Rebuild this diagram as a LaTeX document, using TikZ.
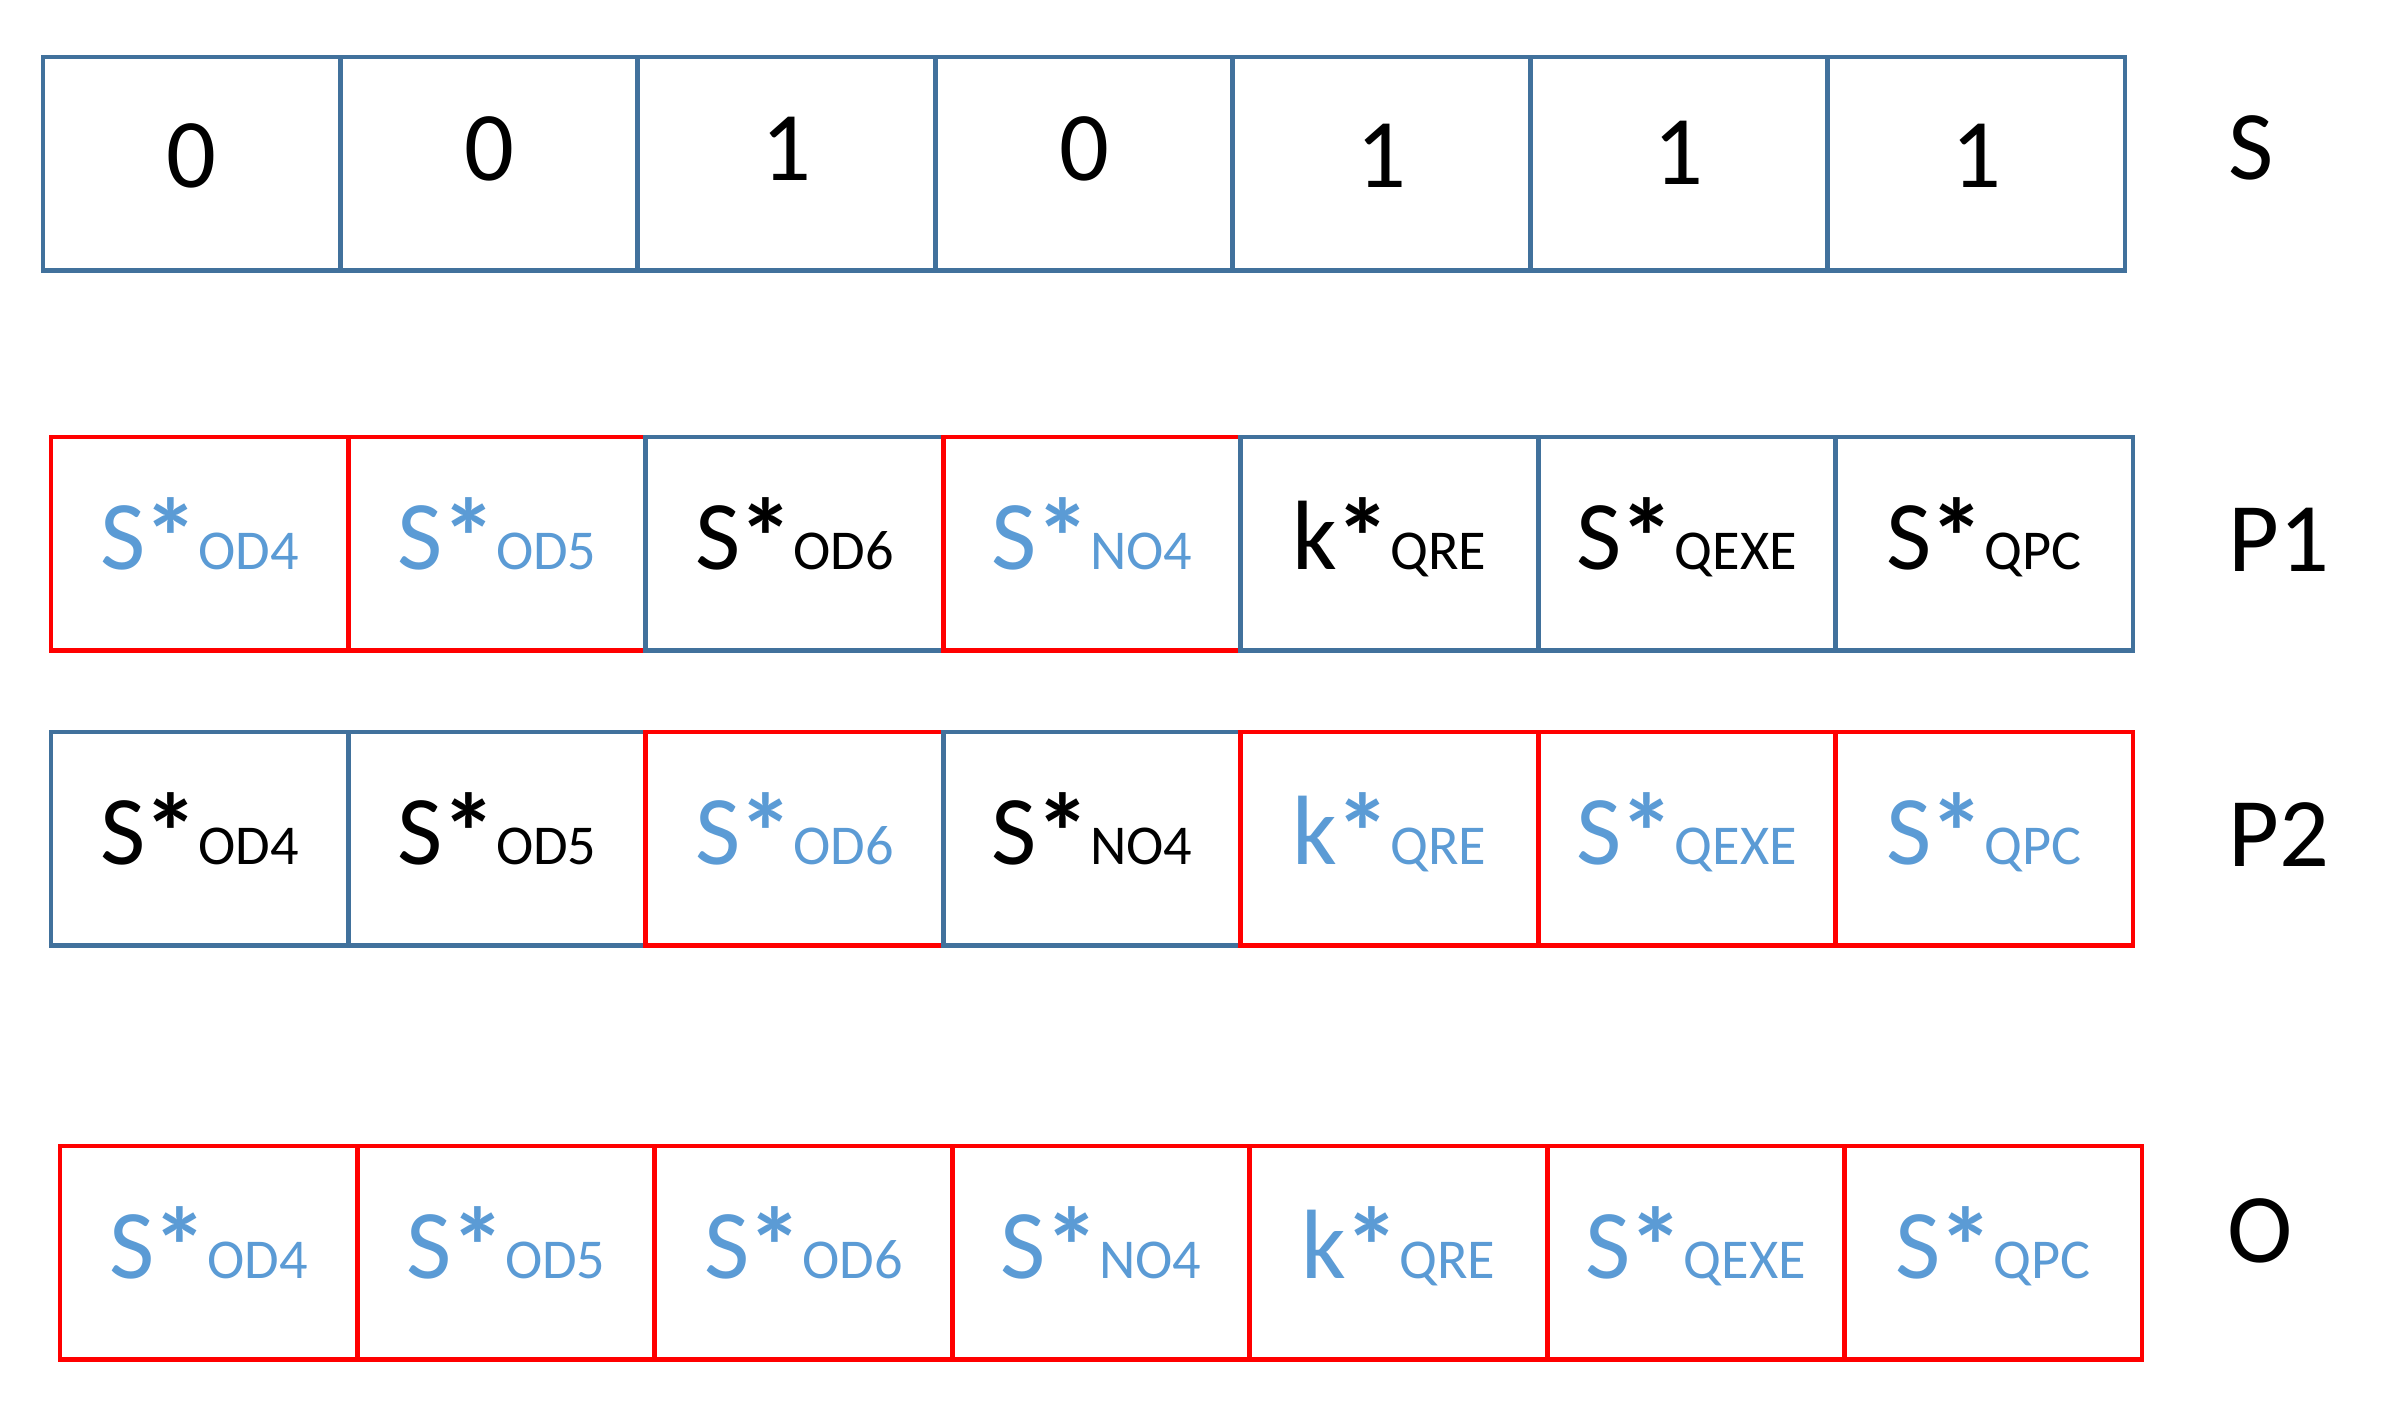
\documentclass[tikz,border=0pt]{standalone}
\usepackage{graphicx}
\usepackage{fontspec}
\setmainfont{Carlito}
\definecolor{bordblue}{HTML}{41719C}
\definecolor{txtblue}{HTML}{5B9BD5}
\definecolor{bordred}{HTML}{FF0000}
\tikzset{
 cell/.style={rectangle, draw, line width=1.4pt, minimum width=2.974cm, minimum height=2.13cm,
   inner sep=0pt, outer sep=0pt, anchor=north west, text height=0.52cm, text depth=0cm},
 bluecell/.style={cell, draw=bordblue, text=black},
 redcell/.style={cell, draw=bordred, text=txtblue},
 digitcell/.style={cell, draw=bordblue, text=black, text height=0.47cm, font=\fontsize{28}{30}\selectfont},
 rowlabel/.style={font=\fontsize{28}{30}\selectfont, anchor=base, inner sep=0pt},
}
\newcommand{\myast}{\raisebox{-0.07em}{\scalebox{1.12}{\bfseries *}}}
\newcommand{\lab}[2]{{\fontsize{28}{30}\selectfont #1\kern-0.02em\myast}{\fontsize{16}{18}\selectfont #2}}
\begin{document}
\begin{tikzpicture}[x=0.01cm,y=-0.01cm]
\useasboundingbox[fill=white] (0,0) rectangle (2406,1425);
% row S
\node[digitcell] (s1) at (43,57) {0};
\node[digitcell] (s2) at (340.4,57) {\raisebox{0.07cm}{0}};
\node[digitcell] (s3) at (637.8,57) {\raisebox{0.07cm}{1}};
\node[digitcell] (s4) at (935.2,57) {\raisebox{0.07cm}{0}};
\node[digitcell] (s5) at (1232.6,57) {1};
\node[digitcell] (s6) at (1530,57) {\raisebox{0.03cm}{1}};
\node[digitcell] (s7) at (1827.4,57) {1};
\node[rowlabel] (ls) at (2251,180) {S};
% row P1
\node[redcell]  (p11) at (51,437) {\lab{S}{OD4}};
\node[redcell]  (p12) at (348.4,437) {\lab{S}{OD5}};
\node[bluecell] (p13) at (645.8,437) {\lab{S}{OD6}};
\node[redcell]  (p14) at (943.2,437) {\lab{S}{NO4}};
\node[bluecell] (p15) at (1240.6,437) {\lab{k}{QRE}};
\node[bluecell] (p16) at (1538,437) {\lab{S}{QEXE}};
\node[bluecell] (p17) at (1835.4,437) {\lab{S}{QPC}};
\node[rowlabel] (lp1) at (2279,572) {P1};
% row P2
\node[bluecell] (p21) at (51,732) {\lab{S}{OD4}};
\node[bluecell] (p22) at (348.4,732) {\lab{S}{OD5}};
\node[redcell]  (p23) at (645.8,732) {\lab{S}{OD6}};
\node[bluecell] (p24) at (943.2,732) {\lab{S}{NO4}};
\node[redcell]  (p25) at (1240.6,732) {\lab{k}{QRE}};
\node[redcell]  (p26) at (1538,732) {\lab{S}{QEXE}};
\node[redcell]  (p27) at (1835.4,732) {\lab{S}{QPC}};
\node[rowlabel] (lp2) at (2279,866) {P2};
% row O
\node[redcell] (o1) at (60,1146) {\lab{S}{OD4}};
\node[redcell] (o2) at (357.4,1146) {\lab{S}{OD5}};
\node[redcell] (o3) at (654.8,1146) {\lab{S}{OD6}};
\node[redcell] (o4) at (952.2,1146) {\lab{S}{NO4}};
\node[redcell] (o5) at (1249.6,1146) {\lab{k}{QRE}};
\node[redcell] (o6) at (1547,1146) {\lab{S}{QEXE}};
\node[redcell] (o7) at (1844.4,1146) {\lab{S}{QPC}};
\node[rowlabel] (lo) at (2260,1262) {O};
\end{tikzpicture}
\end{document}
